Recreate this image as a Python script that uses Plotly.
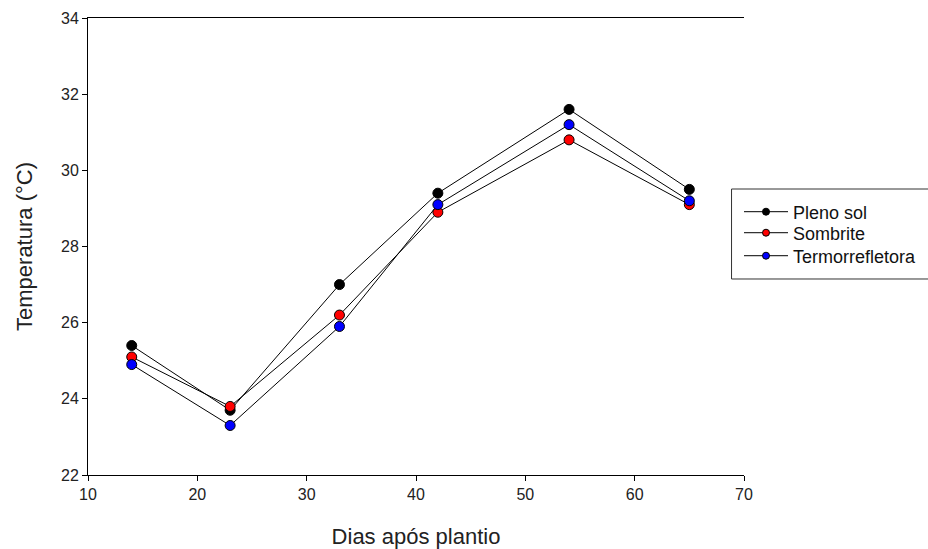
import plotly.graph_objects as go

dias = [14, 23, 33, 42, 54, 65]
pleno_sol = [25.4, 23.7, 27.0, 29.4, 31.6, 29.5]
sombrite = [25.1, 23.8, 26.2, 28.9, 30.8, 29.1]
termorrefletora = [24.9, 23.3, 25.9, 29.1, 31.2, 29.2]

series = [
    ("Pleno sol", pleno_sol, "black"),
    ("Sombrite", sombrite, "red"),
    ("Termorrefletora", termorrefletora, "blue"),
]
legend_ids = ["legend", "legend2", "legend3"]
legend_y = [0.5755, 0.5295, 0.4792]

fig = go.Figure()
for name, vals, col in series:
    fig.add_trace(go.Scatter(
        x=dias, y=vals, name=name, mode="lines+markers", showlegend=False,
        line=dict(color="black", width=1),
        marker=dict(color=col, size=10, line=dict(color="black", width=1)),
    ))
# legend entries (smaller symbols, like the reference key)
for (name, vals, col), lid in zip(series, legend_ids):
    fig.add_trace(go.Scatter(
        x=[None], y=[None], name=name, mode="lines+markers", legend=lid,
        line=dict(color="black", width=1),
        marker=dict(color=col, size=7, line=dict(color="black", width=1)),
    ))

font = "Liberation Sans, Arial, sans-serif"
leg_common = dict(
    x=0.9924, xanchor="left", yanchor="middle",
    borderwidth=0, bgcolor="rgba(0,0,0,0)",
    font=dict(size=18, color="#111"), itemwidth=44,
)

# legend frame: open on the right (the box runs past the image edge)
bx0, bx1, by0, by1 = 0.981, 1.4, 0.4289, 0.6258
frame_line = dict(color="#333", width=1)
frame = [
    dict(type="line", xref="paper", yref="paper", x0=bx0, x1=bx1, y0=by1, y1=by1, line=frame_line),
    dict(type="line", xref="paper", yref="paper", x0=bx0, x1=bx1, y0=by0, y1=by0, line=frame_line),
    dict(type="line", xref="paper", yref="paper", x0=bx0, x1=bx0, y0=by0, y1=by1, line=frame_line),
]

fig.update_layout(
    width=928, height=549,
    margin=dict(l=88, r=184, t=18, b=74, autoexpand=False),
    plot_bgcolor="white", paper_bgcolor="white",
    font=dict(family=font, color="#222", size=16),
    showlegend=True,
    legend=dict(leg_common, y=legend_y[0]),
    legend2=dict(leg_common, y=legend_y[1]),
    legend3=dict(leg_common, y=legend_y[2]),
    shapes=frame,
    xaxis=dict(
        range=[10, 70], tickvals=[10, 20, 30, 40, 50, 60, 70],
        showline=True, linecolor="black", linewidth=1, mirror=True,
        ticks="outside", ticklen=5, tickcolor="black", showgrid=False, zeroline=False,
        title=dict(text="Dias após plantio", font=dict(size=22), standoff=26),
        tickfont=dict(size=16),
    ),
    yaxis=dict(
        range=[22, 34], tickvals=[22, 24, 26, 28, 30, 32, 34],
        showline=True, linecolor="black", linewidth=1, mirror=False,
        ticks="outside", ticklen=5, tickcolor="black", showgrid=False, zeroline=False,
        title=dict(text="Temperatura (°C)", font=dict(size=22), standoff=22),
        tickfont=dict(size=16),
    ),
)

fig.write_html(
    "out.html",
    config={"displayModeBar": False},
    post_script="document.body.style.margin='0';document.body.style.overflow='hidden';",
)
